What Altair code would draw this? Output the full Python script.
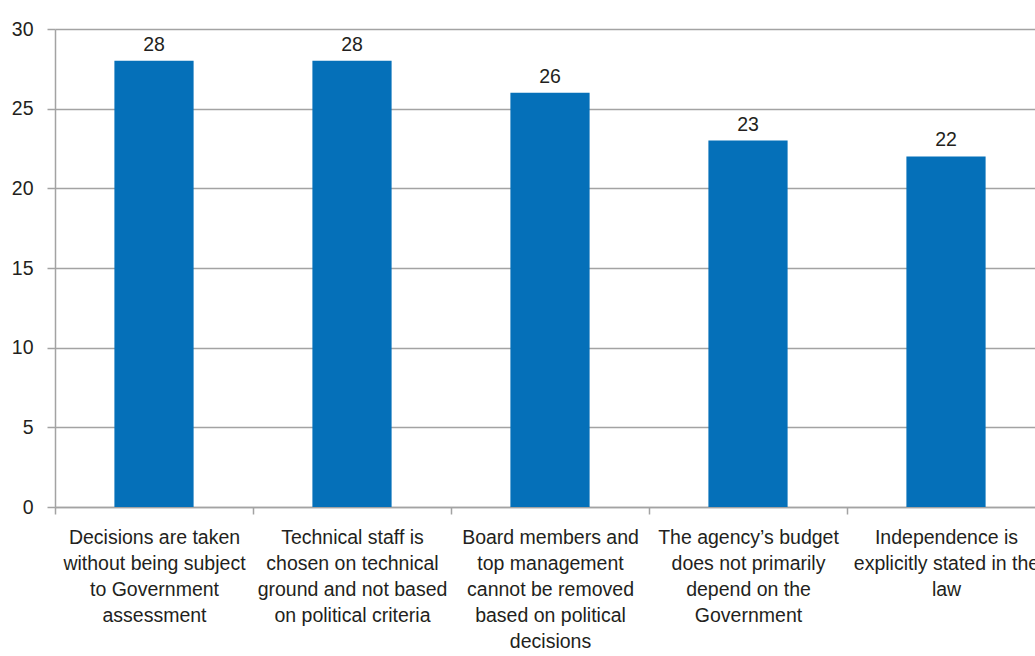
import altair as alt
import pandas as pd

categories = [
    ["Decisions are taken", "without being subject", "to Government", "assessment"],
    ["Technical staff is", "chosen on technical", "ground and not based", "on political criteria"],
    ["Board members and", "top management", "cannot be removed", "based on political", "decisions"],
    ["The agency\u2019s budget", "does not primarily", "depend on the", "Government"],
    ["Independence is", "explicitly stated in the", "law"],
]
values = [28, 28, 26, 23, 22]
y_ticks = [0, 5, 10, 15, 20, 25, 30]

df = pd.DataFrame({"category": ["|".join(c) for c in categories], "value": values})

FONT = "Liberation Sans Narrow, Arial Narrow, Liberation Sans, Arial, sans-serif"
FS = 19.5
TEXT = "#231F20"
GRID = "#A3A3A3"
BAR = "#0570B9"

x = alt.X(
    "category:N",
    sort=None,
    title=None,
    scale=alt.Scale(range=[0, 990], paddingInner=0, paddingOuter=0),
    axis=alt.Axis(
        labelExpr="split(datum.label, '|')",
        labelAngle=0,
        labelOverlap=False,
        labelLimit=400,
        tickBand="extent",
        tickSize=7,
        tickColor=GRID,
        tickWidth=1.5,
        domainColor=GRID,
        domainWidth=1.5,
        labelFont=FONT,
        labelFontSize=FS,
        labelColor=TEXT,
        labelPadding=14,
        labelLineHeight=26,
        grid=False,
    ),
)

y = alt.Y(
    "value:Q",
    title=None,
    scale=alt.Scale(domain=[0, 30], nice=False),
    axis=alt.Axis(
        values=y_ticks,
        tickSize=8,
        tickColor=GRID,
        tickWidth=1.5,
        domainColor=GRID,
        domainWidth=1.5,
        gridColor=GRID,
        gridWidth=1.5,
        labelFont=FONT,
        labelFontSize=FS,
        labelColor=TEXT,
        labelPadding=14,
    ),
)

base = alt.Chart(df)
bars = base.mark_bar(width=alt.RelativeBandSize(0.4), color=BAR).encode(x=x, y=y)
labels = base.mark_text(
    dy=-10, baseline="alphabetic", font=FONT, fontSize=FS, color=TEXT
).encode(x=x, y=y, text=alt.Text("value:Q"))

chart = (
    (bars + labels)
    .properties(
        width=980,
        height=478,
        autosize=alt.AutoSizeParams(type="none"),
        padding={"left": 55, "top": 29, "right": 0, "bottom": 149},
        background="white",
    )
    .configure_view(stroke=None)
)

chart.save("out.html", embed_options={"renderer": "svg", "actions": False})
